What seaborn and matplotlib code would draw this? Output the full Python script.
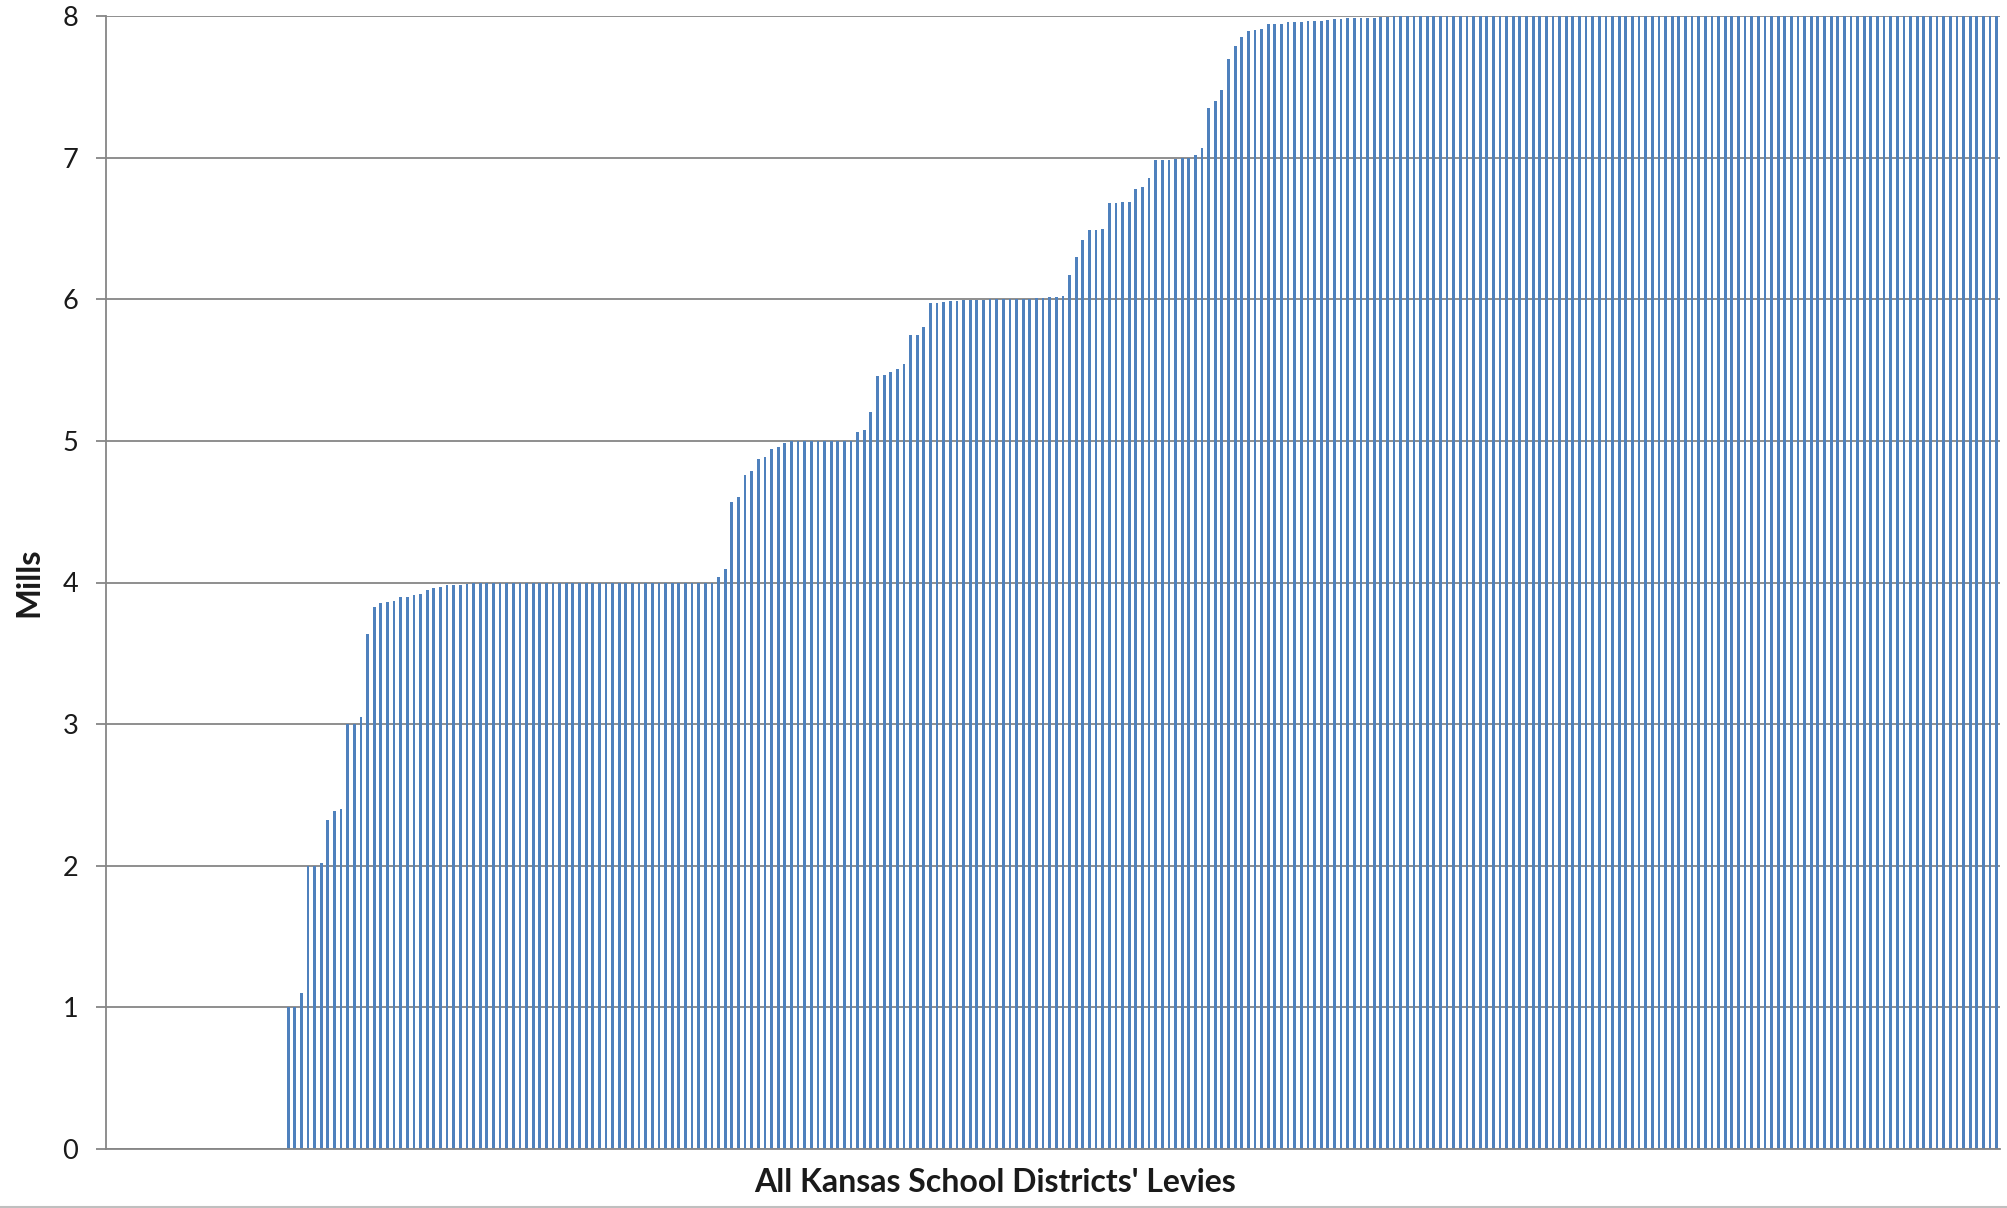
import matplotlib
matplotlib.use("Agg")
import matplotlib.pyplot as plt
from matplotlib.lines import Line2D
import seaborn as sns
import pandas as pd

# ---- data ----
zero_levies = [0.0] * 27  # districts with no levy (no visible bar)

rising_levies = [
    1.0, 1.0, 1.10, 2.0, 2.0, 2.02, 2.32, 2.385, 2.40, 3.0,
    3.0, 3.047, 3.636, 3.83, 3.856, 3.86, 3.87, 3.895, 3.90, 3.91,
    3.92, 3.95, 3.96, 3.965, 3.98, 3.98, 3.985, 3.99, 3.995,
]
flat_four = [
    4.0, 4.0, 4.0, 4.0, 4.0, 4.0, 4.0, 4.0, 4.0, 4.0, 4.0, 4.0,
    4.0, 4.0, 4.0, 4.0, 4.0, 4.0, 4.0, 4.0, 4.0, 4.0, 4.0, 4.0,
    4.0, 4.0, 4.0, 4.0, 4.0, 4.0, 4.0, 4.0, 4.0, 4.0, 4.0, 4.0,
]
four_to_five = [
    4.036, 4.095, 4.565, 4.605, 4.756, 4.787, 4.874, 4.886, 4.944, 4.956,
    4.985, 5.0, 5.0, 5.0, 5.0, 5.0, 5.0, 5.0, 5.0, 5.0, 5.0,
]
five_to_six = [
    5.064, 5.078, 5.203, 5.455, 5.464, 5.488, 5.506, 5.54, 5.745, 5.745,
    5.807, 5.97, 5.974, 5.979, 5.986, 5.986, 5.993, 5.995, 5.995, 5.995,
    6.0, 6.0, 6.0, 6.0, 6.0, 6.0, 6.005, 6.007, 6.012, 6.014,
    6.017, 6.026,
]
six_to_eight = [
    6.17, 6.30, 6.42, 6.49, 6.49, 6.495, 6.68, 6.68, 6.684, 6.686,
    6.78, 6.79, 6.858, 6.98, 6.98, 6.98, 6.99, 6.995, 7.0, 7.02,
    7.07, 7.347, 7.403, 7.479, 7.693, 7.79, 7.85, 7.896, 7.899, 7.91,
    7.94, 7.94, 7.946, 7.955, 7.96, 7.96, 7.965, 7.967, 7.967, 7.97,
    7.976, 7.98, 7.983, 7.983, 7.985, 7.985, 7.988, 7.99, 7.993,
]
flat_eight = [
    8.0, 8.0, 8.0, 8.0, 8.0, 8.0, 8.0, 8.0, 8.0, 8.0, 8.0, 8.0,
    8.0, 8.0, 8.0, 8.0, 8.0, 8.0, 8.0, 8.0, 8.0, 8.0, 8.0, 8.0,
    8.0, 8.0, 8.0, 8.0, 8.0, 8.0, 8.0, 8.0, 8.0, 8.0, 8.0, 8.0,
    8.0, 8.0, 8.0, 8.0, 8.0, 8.0, 8.0, 8.0, 8.0, 8.0, 8.0, 8.0,
    8.0, 8.0, 8.0, 8.0, 8.0, 8.0, 8.0, 8.0, 8.0, 8.0, 8.0, 8.0,
    8.0, 8.0, 8.0, 8.0, 8.0, 8.0, 8.0, 8.0, 8.0, 8.0, 8.0, 8.0,
    8.0, 8.0, 8.0, 8.0, 8.0, 8.0, 8.0, 8.0, 8.0, 8.0, 8.0, 8.0,
    8.0, 8.0, 8.0, 8.0, 8.0, 8.0, 8.0, 8.0,
]

levies = zero_levies + rising_levies + flat_four + four_to_five + five_to_six + six_to_eight + flat_eight
districts = [f"D{i + 1:03d}" for i in range(len(levies))]

y_ticks = [0, 1, 2, 3, 4, 5, 6, 7, 8]
x_title = "All Kansas School Districts' Levies"
y_title = "Mills"

# ---- style ----
sns.set_theme(style="white")
plt.rcParams["font.family"] = ["Lato", "DejaVu Sans"]

BAR = "#4F81BD"
GRID = "#868686"
TEXT = "#1a1a1a"

W, H = 2007, 1208
fig = plt.figure(figsize=(W / 100, H / 100), dpi=100)
ax = fig.add_axes([106 / W, 1 - 1149 / H, (2000 - 106) / W, (1149 - 16) / H])

df = pd.DataFrame({"district": districts, "levy": levies})
sns.barplot(data=df, x="district", y="levy", color=BAR, saturation=1,
            width=0.42, linewidth=0, ax=ax, order=districts)

ax.set_xlim(-0.5, len(levies) - 0.5)
ax.set_ylim(0, 8)
ax.set_yticks(y_ticks)
ax.set_yticklabels([str(t) for t in y_ticks])
ax.set_xticks([])

ax.set_axisbelow(True)
ax.yaxis.grid(True, color=GRID, linewidth=1.3)
ax.xaxis.grid(False)

for side in ["top", "right"]:
    ax.spines[side].set_visible(False)
for side in ["left", "bottom"]:
    ax.spines[side].set_color(GRID)
    ax.spines[side].set_linewidth(1.3)

ax.tick_params(axis="y", which="both", direction="out", length=7, width=1.3,
               color=GRID, pad=13, labelsize=19.5, labelcolor=TEXT, left=True)

ax.set_xlabel(x_title, fontsize=23, fontweight="bold", color=TEXT)
ax.xaxis.set_label_coords((995 - 106) / (2000 - 106), -34 / (1149 - 16))
ax.xaxis.label.set_verticalalignment("center")
ax.set_ylabel(y_title, fontsize=23.5, fontweight="bold", color=TEXT)
ax.yaxis.set_label_coords((29 - 106) / (2000 - 106), (1149 - 455 * 1.28) / (1149 - 16))
ax.yaxis.label.set_verticalalignment("center")

# thin light frame line at the bottom of the picture
fig.add_artist(Line2D([0, 1], [1 - 1206.5 / H, 1 - 1206.5 / H],
                      transform=fig.transFigure, color="#BFBFBF", linewidth=1.5))

fig.savefig("out.png", dpi=100, facecolor="white")
